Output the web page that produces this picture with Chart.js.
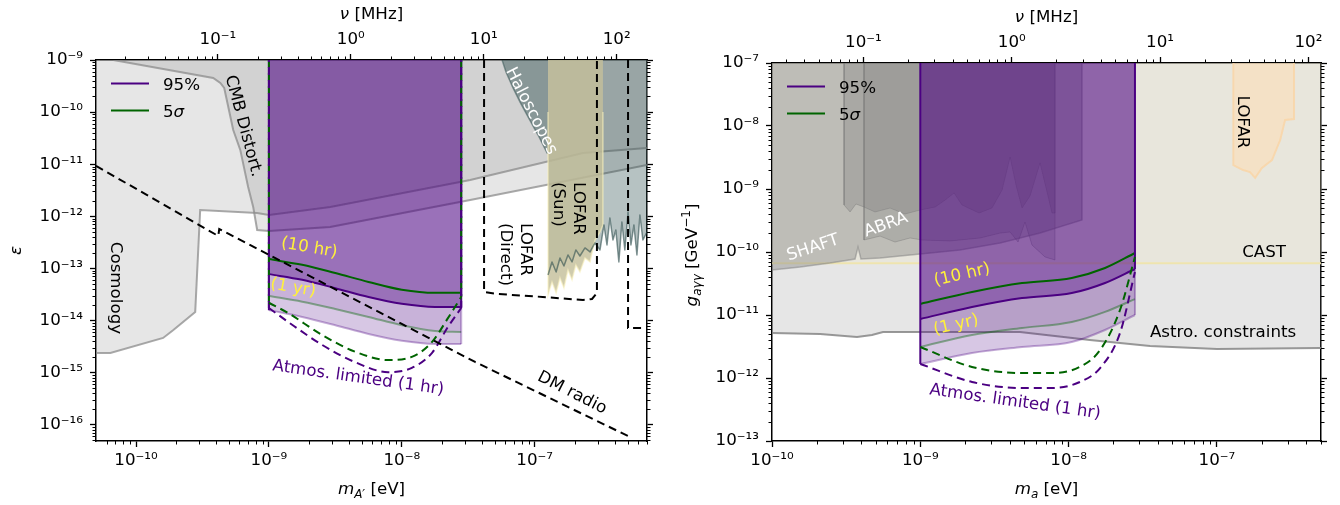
<!DOCTYPE html>
<html>
<head>
<meta charset="utf-8">
<script src="https://cdn.jsdelivr.net/npm/chart.js@4.4.1/dist/chart.umd.min.js"></script>
<style>
  html, body { margin: 0; padding: 0; background: #fff; }
  #wrap { position: relative; width: 1340px; height: 505px; overflow: hidden; }
  canvas { position: absolute; top: 0; }
  #darkPhoton { left: 0; }
  #axion { left: 670px; }
</style>
</head>
<body>
<div id="wrap">
  <canvas id="darkPhoton" width="670" height="505"></canvas>
  <canvas id="axion" width="670" height="505"></canvas>
</div>
<script>
const EV_PER_MHZ = 4.1357e-9;
const FONT = '"DejaVu Sans", sans-serif';
const FS = 16.7;
const INDIGO = '#4b0082';
const GREEN = '#006400';
const YELLOW = '#fff03c';

// shared top axis (frequency)
const freqTicks = [0.1, 1, 10, 100];
const freqTickLabels = ['10⁻¹', '10⁰', '10¹', '10²'];

// ---------- left: dark photon, m_A' [eV] vs epsilon ----------
const leftMassRange = [5e-11, 7e-7];
const leftEpsRange = [4.86e-17, 1e-9];
const leftMassTicks = [1e-10, 1e-9, 1e-8, 1e-7];
const leftMassTickLabels = ['10⁻¹⁰', '10⁻⁹', '10⁻⁸', '10⁻⁷'];
const leftEpsTicks = [1e-16, 1e-15, 1e-14, 1e-13, 1e-12, 1e-11, 1e-10, 1e-9];
const leftEpsTickLabels = ['10⁻¹⁶', '10⁻¹⁵', '10⁻¹⁴', '10⁻¹³', '10⁻¹²', '10⁻¹¹', '10⁻¹⁰', '10⁻⁹'];

const cosmologyMass = [5e-11, 6.41e-11, 1.6e-10, 1.91e-10, 2.79e-10, 3.04e-10, 8.16e-10, 1e-9, 2.89e-9, 3.27e-8, 2.31e-7, 7e-7];
const cosmologyEps = [2.38e-15, 2.38e-15, 4.62e-15, 6.57e-15, 1.46e-14, 1.32e-12, 1.16e-12, 1.06e-12, 1.51e-12, 4.98e-12, 1.64e-11, 2.05e-11];

const cmbMass = [6.75e-11, 3.81e-10, 4.31e-10, 4.61e-10, 5.39e-10, 6.09e-10, 6.98e-10, 7.62e-10, 8.16e-10, 1e-9, 2.89e-9, 3.27e-8, 7e-7];
const cmbEps = [1e-9, 4.52e-10, 3.62e-10, 2.9e-10, 4.53e-11, 1.88e-11, 3.65e-12, 1.51e-12, 5.46e-13, 5.22e-13, 6.23e-13, 2.06e-12, 9.66e-12];

const haloMass = [5.68e-8, 6.08e-8, 6.87e-8, 7.76e-8, 8.75e-8, 1.06e-7, 1.24e-7, 1.26e-7];
const haloEps = [1e-9, 5.89e-10, 2.9e-10, 1.56e-10, 8.8e-11, 3.63e-11, 1.64e-11, 1.64e-11];

const noiseMass = [1.26e-7, 1.35e-7, 1.45e-7, 1.55e-7, 1.66e-7, 1.78e-7, 1.91e-7, 2.04e-7, 2.19e-7, 2.39e-7, 2.61e-7, 2.84e-7, 3.1e-7, 3.32e-7,
  3.5e-7, 3.68e-7, 3.88e-7, 4.08e-7, 4.3e-7, 4.53e-7, 4.77e-7, 5.04e-7, 5.3e-7, 5.58e-7, 5.88e-7, 6.19e-7, 6.52e-7, 7e-7];
const noiseEps = [7.46e-14, 1.33e-13, 8.53e-14, 1.58e-13, 1.11e-13, 1.81e-13, 1.33e-13, 2.26e-13, 1.73e-13, 2.47e-13, 2.07e-13, 3.08e-13, 2.26e-13, 6.81e-13,
  2.81e-13, 9.27e-13, 3.51e-13, 5.46e-13, 1.33e-13, 7.78e-13, 2.26e-13, 1.21e-12, 2.81e-13, 6.81e-13, 1.81e-13, 1.06e-12, 3.51e-13, 5e-13];

const lofarSunMass = [1.26e-7, 1.26e-7, 1.35e-7, 1.45e-7, 1.55e-7, 1.66e-7, 1.78e-7, 1.91e-7, 2.04e-7, 2.19e-7, 2.39e-7, 2.61e-7, 2.84e-7, 3.1e-7, 3.26e-7, 3.26e-7];
const lofarSunEps = [1e-10, 3.08e-14, 5.48e-14, 3.37e-14, 6.55e-14, 4.21e-14, 9.31e-14, 5.99e-14, 1.16e-13, 8.53e-14, 1.58e-13, 1.33e-13, 3.51e-13, 5e-13, 6.81e-13, 1e-10];

const dmRadioMass = [5e-11, 4.16e-10, 4.23e-10, 3.56e-8, 5.4e-7];
const dmRadioEps = [9.3e-12, 4.19e-13, 5.7e-13, 1.6e-15, 5.56e-17];

const lofarDirectMass = [4.16e-8, 4.16e-8, 5.21e-8, 1.15e-7, 2.31e-7, 2.7e-7, 2.94e-7, 2.94e-7];
const lofarDirectEps = [1e-9, 3.52e-14, 3.23e-14, 2.83e-14, 2.47e-14, 2.59e-14, 3.37e-14, 1e-9];

const farRightMass = [5.04e-7, 5.04e-7, 7e-7];
const farRightEps = [1e-9, 7.18e-15, 7.18e-15];

const leftReachMass = [1e-9, 1.78e-9, 3.16e-9, 5.62e-9, 1e-8, 1.78e-8, 2.8e-8];
const left5sig10hr = [1.51e-13, 1.17e-13, 8.13e-14, 5.5e-14, 3.89e-14, 3.39e-14, 3.39e-14];
const left95pc10hr = [7.76e-14, 6.03e-14, 4.17e-14, 2.82e-14, 2.09e-14, 1.82e-14, 1.82e-14];
const left5sig1yr = [2.95e-14, 2.29e-14, 1.66e-14, 1.17e-14, 8.13e-15, 6.31e-15, 6.03e-15];
const left95pc1yr = [1.58e-14, 1.17e-14, 8.13e-15, 5.5e-15, 4.07e-15, 3.55e-15, 3.55e-15];
const leftAtmosMass = [1e-9, 1.4e-9, 2.52e-9, 4.46e-9, 7.89e-9, 1.19e-8, 1.69e-8, 2.23e-8, 2.8e-8];
const leftAtmos5sig = [2.19e-14, 1.38e-14, 5.25e-15, 2.51e-15, 1.74e-15, 2e-15, 3.89e-15, 1.12e-14, 2.82e-14];
const leftAtmos95pc = [1.74e-14, 9.33e-15, 3.39e-15, 1.58e-15, 1.02e-15, 1.23e-15, 2.4e-15, 7.59e-15, 1.74e-14];

// ---------- right: axion, m_a [eV] vs g_agg ----------
const rightMassRange = [1e-10, 5.03e-7];
const rightCouplingRange = [1e-13, 1e-7];
const rightMassTicks = [1e-10, 1e-9, 1e-8, 1e-7];
const rightMassTickLabels = ['10⁻¹⁰', '10⁻⁹', '10⁻⁸', '10⁻⁷'];
const rightCouplingTicks = [1e-13, 1e-12, 1e-11, 1e-10, 1e-9, 1e-8, 1e-7];
const rightCouplingTickLabels = ['10⁻¹³', '10⁻¹²', '10⁻¹¹', '10⁻¹⁰', '10⁻⁹', '10⁻⁸', '10⁻⁷'];

const astroMass = [1e-10, 2.11e-10, 3.74e-10, 4.72e-10, 5.6e-10, 4.7e-9, 1.39e-8, 3.54e-8, 1e-7, 5.03e-7];
const astroCoupling = [5.18e-12, 4.99e-12, 4.48e-12, 4.82e-12, 5.37e-12, 5.37e-12, 4.01e-12, 3.22e-12, 2.89e-12, 2.99e-12];

const castMass = [1e-10, 5.03e-7];
const castCoupling = [6.6e-11, 6.6e-11];

const shaftMass = [1e-10, 1.55e-10, 2.46e-10, 3.63e-10, 3.8e-10, 3.98e-10, 5.35e-10, 7.29e-10, 1e-9, 1.85e-9, 3.45e-9, 6.41e-9, 1.23e-8, 1.23e-8];
const shaftCoupling = [5.18e-11, 5.78e-11, 6.68e-11, 7.74e-11, 1.2e-10, 7.74e-11, 8.03e-11, 8.65e-11, 9.3e-11, 1.08e-10, 1.39e-10, 2e-10, 3.22e-10, 1e-7];

const abraUpperMass = [3.06e-10, 3.06e-10, 3.36e-10, 3.68e-10, 4.17e-10, 4.95e-10, 6.25e-10, 7.88e-10, 1e-9, 1.26e-9, 1.47e-9, 1.69e-9, 1.91e-9,
  2.49e-9, 3.04e-9, 3.56e-9, 4.03e-9, 4.42e-9, 4.85e-9, 5.49e-9, 6.41e-9, 7.05e-9, 7.73e-9, 8.09e-9, 8.09e-9];
const abraUpperCoupling = [1e-7, 5.57e-10, 4.32e-10, 5.78e-10, 5.18e-10, 4.32e-10, 4.99e-10, 4.01e-10, 4.65e-10, 5.18e-10, 6.68e-10, 8.65e-10, 5.57e-10,
  4.16e-10, 4.99e-10, 9.64e-10, 3.22e-9, 1.16e-9, 4.99e-10, 7.74e-10, 2.59e-9, 1.04e-9, 4.16e-10, 4.16e-10, 1e-7];

const abraLowerMass = [4.17e-10, 4.17e-10, 5.35e-10, 6.75e-10, 8.53e-10, 1.03e-9, 1.59e-9, 2.53e-9, 3.45e-9, 4.03e-9, 4.56e-9, 5.08e-9, 5.66e-9, 6.93e-9, 8.09e-9, 8.09e-9];
const abraLowerCoupling = [1e-7, 1.55e-10, 1.79e-10, 1.44e-10, 1.67e-10, 1.55e-10, 1.5e-10, 1.67e-10, 2e-10, 2.08e-10, 1.44e-10, 2.99e-10, 1.29e-10, 8.34e-11, 7.46e-11, 1e-7];

const lofarMass = [1.29e-7, 1.29e-7, 1.5e-7, 1.67e-7, 1.81e-7, 2.01e-7, 2.35e-7, 2.67e-7, 2.88e-7, 3.31e-7, 3.31e-7];
const lofarCoupling = [1e-7, 2.4e-9, 2e-9, 1.86e-9, 1.5e-9, 2.15e-9, 2.88e-9, 6e-9, 1.25e-8, 1.29e-8, 1e-7];

const rightReachMass = [1e-9, 2.23e-9, 4.85e-9, 1.05e-8, 1.76e-8, 2.8e-8];
const right5sig10hr = [1.5e-11, 2.32e-11, 3.22e-11, 3.86e-11, 5.57e-11, 9.64e-11];
const right95pc10hr = [8.65e-12, 1.34e-11, 1.86e-11, 2.23e-11, 3.22e-11, 5.37e-11];
const right5sig1yr = [3.1e-12, 4.82e-12, 6.22e-12, 7.74e-12, 1.12e-11, 1.79e-11];
const right95pc1yr = [1.67e-12, 2.49e-12, 3.1e-12, 3.72e-12, 5.78e-12, 1e-11];
const rightAtmosMass = [1e-9, 2.23e-9, 4.85e-9, 7.73e-9, 1.19e-8, 1.63e-8, 2.22e-8, 2.8e-8];
const rightAtmos5sig = [3.1e-12, 1.5e-12, 1.2e-12, 1.2e-12, 1.5e-12, 2.78e-12, 1.2e-11, 8.34e-11];
const rightAtmos95pc = [1.67e-12, 8.65e-13, 6.93e-13, 6.93e-13, 8.65e-13, 1.44e-12, 5.18e-12, 4.82e-11];

// ---------- dataset helpers ----------
function line(xs, ys, color, width, extra = {}) {
    return Object.assign({
        data: xs.map((x, i) => ({ x, y: ys[i] })),
        borderColor: color,
        borderWidth: width,
        backgroundColor: 'transparent',
        fill: false,
        pointRadius: 0,
        pointHitRadius: 0,
        tension: 0,
        xAxisID: 'x',
        yAxisID: 'y'
    }, extra);
}

function region(xs, ys, bg, edge, edgeWidth, extra = {}) {
    return line(xs, ys, edge || 'transparent', edge ? edgeWidth : 0, Object.assign({ backgroundColor: bg, fill: 'end' }, extra));
}

const smooth = { cubicInterpolationMode: 'monotone' };
const dashed = { borderDash: [8, 5] };

// purple reach block shared by both panels
function reachDatasets(p) {
    const top = p.top;
    const last = p.mass.length - 1;
    const out = [
        region(p.mass, p.c95_1yr, 'rgba(75,0,130,0.22)', null, 0, smooth),
        region(p.mass, p.c5_1yr, 'rgba(75,0,130,0.11)', null, 0, smooth),
        region(p.mass, p.c95_10hr, 'rgba(75,0,130,0.37)', null, 0, smooth),
        line(p.mass, p.c5_1yr, 'rgba(0,100,0,0.4)', 2, smooth),
        line(p.mass, p.c95_1yr, 'rgba(75,0,130,0.33)', 2, smooth),
        line([p.mass[last], p.mass[last]], [p.c95_10hr[last], p.c95_1yr[last]], 'rgba(75,0,130,0.33)', 2),
        line(p.mass, p.c5_10hr, GREEN, 2, smooth),
        line(p.mass, p.c95_10hr, INDIGO, 2, smooth),
        line([p.mass[0], p.mass[0]], [top, p.c95_1yr[0]], INDIGO, 2),
        line([p.mass[last], p.mass[last]], [top, p.c95_10hr[last]], INDIGO, 2)
    ];
    const al = p.atmosMass.length - 1;
    if (p.atmosEdges) {
        out.push(line([p.atmosMass[0], p.atmosMass[0]], [top, p.a5[0]], GREEN, 2, dashed));
        out.push(line([p.atmosMass[al], p.atmosMass[al]], [top, p.a5[al]], GREEN, 2, dashed));
        out.push(line([p.atmosMass[0], p.atmosMass[0]], [top, p.a95[0]], INDIGO, 2, { borderDash: [8, 5], borderDashOffset: 6 }));
        out.push(line([p.atmosMass[al], p.atmosMass[al]], [top, p.a95[al]], INDIGO, 2, { borderDash: [8, 5], borderDashOffset: 6 }));
    }
    out.push(line(p.atmosMass, p.a5, GREEN, 2, Object.assign({}, smooth, dashed)));
    out.push(line(p.atmosMass, p.a95, INDIGO, 2, Object.assign({}, smooth, dashed)));
    return out;
}

const leftDatasets = [
    region(cosmologyMass, cosmologyEps, 'rgba(128,128,128,0.2)', 'rgba(140,140,140,0.75)', 2),
    region(cmbMass, cmbEps, 'rgba(128,128,128,0.2)', 'rgba(140,140,140,0.75)', 2),
    region(haloMass, haloEps, 'rgba(47,79,79,0.45)', 'rgba(47,79,79,0.5)', 1.5),
    region(noiseMass, noiseEps, 'rgba(47,79,79,0.35)', null, 0),
    region(lofarSunMass, lofarSunEps, 'rgba(196,191,155,0.82)', 'rgba(250,242,190,0.6)', 1.5),
    line(noiseMass, noiseEps, 'rgba(47,79,79,0.6)', 1.5, { borderJoinStyle: 'round' }),
    ...reachDatasets({
        top: leftEpsRange[1], mass: leftReachMass,
        c5_10hr: left5sig10hr, c95_10hr: left95pc10hr, c5_1yr: left5sig1yr, c95_1yr: left95pc1yr,
        atmosMass: leftAtmosMass, a5: leftAtmos5sig, a95: leftAtmos95pc, atmosEdges: true
    }),
    line(dmRadioMass, dmRadioEps, '#000', 2, dashed),
    line(lofarDirectMass, lofarDirectEps, '#000', 2, dashed),
    line(farRightMass, farRightEps, '#000', 2, dashed)
];

const rightDatasets = [
    region(astroMass, astroCoupling, 'rgba(128,128,128,0.2)', 'rgba(128,128,128,0.8)', 2),
    region(castMass, castCoupling, 'rgba(240,230,180,0.2)', 'rgba(240,228,170,0.9)', 2),
    region(shaftMass, shaftCoupling, 'rgba(128,128,128,0.4)', 'rgba(128,128,128,0.5)', 1.5),
    region(abraUpperMass, abraUpperCoupling, 'rgba(128,128,128,0.35)', 'rgba(110,110,110,0.35)', 1, { borderJoinStyle: 'round' }),
    region(abraLowerMass, abraLowerCoupling, 'rgba(128,128,128,0.28)', 'rgba(110,110,110,0.35)', 1, { borderJoinStyle: 'round' }),
    region(lofarMass, lofarCoupling, 'rgba(255,222,180,0.55)', 'rgba(250,212,165,0.8)', 2),
    ...reachDatasets({
        top: rightCouplingRange[1], mass: rightReachMass,
        c5_10hr: right5sig10hr, c95_10hr: right95pc10hr, c5_1yr: right5sig1yr, c95_1yr: right95pc1yr,
        atmosMass: rightAtmosMass, a5: rightAtmos5sig, a95: rightAtmos95pc, atmosEdges: false
    })
];

// ---------- text overlays ----------
const leftNotes = [
    { text: ['(10 hr)'], at: [2.01e-9, 2.47e-13], rot: 10, color: YELLOW },
    { text: ['(1 yr)'], at: [1.52e-9, 4.21e-14], rot: 10, color: YELLOW },
    { text: ['Atmos. limited (1 hr)'], at: [4.7e-9, 7.87e-16], rot: 8, color: INDIGO },
    { text: ['DM radio'], at: [1.91e-7, 4.06e-16], rot: 27 },
    { text: ['Cosmology'], at: [7e-11, 4.21e-14], rot: 90 },
    { text: ['CMB Distort.'], at: [6.41e-10, 5.41e-11], rot: 75 },
    { text: ['Haloscopes'], at: [9.4e-8, 1.05e-10], rot: 63, color: '#fff' },
    { text: ['LOFAR', '(Sun)'], at: [1.78e-7, 4.55e-12], rot: 90, align: 'left' },
    { text: ['LOFAR', '(Direct)'], at: [7.11e-8, 7.43e-13], rot: 90, align: 'left' }
];

const rightNotes = [
    { text: ['SHAFT'], at: [1.89e-10, 1.16e-10], rot: -18, color: '#fff' },
    { text: ['ABRA'], at: [5.87e-10, 2.68e-10], rot: -20, color: '#fff' },
    { text: ['LOFAR'], at: [1.48e-7, 1.16e-8], rot: 90 },
    { text: ['CAST'], at: [2.08e-7, 9.64e-11], rot: 0 },
    { text: ['Astro. constraints'], at: [1.1e-7, 5.18e-12], rot: 0 },
    { text: ['(10 hr)'], at: [1.91e-9, 4.32e-11], rot: -13, color: YELLOW },
    { text: ['(1 yr)'], at: [1.74e-9, 6.93e-12], rot: -13, color: YELLOW },
    { text: ['Atmos. limited (1 hr)'], at: [4.36e-9, 4.16e-13], rot: 8, color: INDIGO }
];

function fontOf(p) {
    return `${p.it ? 'italic ' : ''}${p.s || FS}px ${FONT}`;
}

function richText(ctx, parts, x, y, rot, align) {
    ctx.save();
    ctx.translate(x, y);
    ctx.rotate(rot * Math.PI / 180);
    ctx.textBaseline = 'alphabetic';
    ctx.textAlign = 'left';
    let width = 0;
    parts.forEach((p) => { ctx.font = fontOf(p); width += ctx.measureText(p.t).width; });
    let cx = align === 'left' ? 0 : -width / 2;
    parts.forEach((p) => {
        ctx.font = fontOf(p);
        ctx.fillStyle = p.c || '#000';
        ctx.fillText(p.t, cx, FS * 0.36 + (p.dy || 0));
        cx += ctx.measureText(p.t).width;
    });
    ctx.restore();
}

function drawNote(ctx, note, px, py) {
    ctx.save();
    ctx.translate(px, py);
    ctx.rotate(note.rot * Math.PI / 180);
    ctx.font = `${FS}px ${FONT}`;
    ctx.fillStyle = note.color || '#000';
    ctx.textAlign = note.align || 'center';
    ctx.textBaseline = 'middle';
    const lh = 20;
    note.text.forEach((t, i) => ctx.fillText(t, 0, (i - (note.text.length - 1) / 2) * lh));
    ctx.restore();
}

function minorValues(min, max) {
    const out = [];
    for (let e = Math.floor(Math.log10(min)); e <= Math.ceil(Math.log10(max)); e++) {
        for (let k = 2; k <= 9; k++) {
            const v = k * Math.pow(10, e);
            if (v >= min && v <= max) out.push(v);
        }
    }
    return out;
}

function drawMinorTicks(chart) {
    const ctx = chart.ctx;
    const area = chart.chartArea;
    ctx.save();
    ctx.strokeStyle = '#000';
    ctx.lineWidth = 1;
    ctx.beginPath();
    Object.values(chart.scales).forEach((scale) => {
        minorValues(scale.min, scale.max).forEach((v) => {
            const p = Math.round(scale.getPixelForValue(v)) + 0.5;
            if (scale.position === 'bottom') { ctx.moveTo(p, area.bottom); ctx.lineTo(p, area.bottom + 3.5); }
            if (scale.position === 'top') { ctx.moveTo(p, area.top); ctx.lineTo(p, area.top - 3.5); }
            if (scale.position === 'left') { ctx.moveTo(area.left, p); ctx.lineTo(area.left - 3.5, p); }
            if (scale.position === 'right') { ctx.moveTo(area.right, p); ctx.lineTo(area.right + 3.5, p); }
        });
    });
    ctx.stroke();
    ctx.restore();
}

function drawLegend(chart) {
    const ctx = chart.ctx;
    const area = chart.chartArea;
    const rows = [
        { color: INDIGO, parts: [{ t: '95%' }] },
        { color: GREEN, parts: [{ t: '5' }, { t: 'σ', it: true }] }
    ];
    rows.forEach((row, i) => {
        const y = area.top + 23.5 + i * 27;
        ctx.save();
        ctx.strokeStyle = row.color;
        ctx.lineWidth = 2.2;
        ctx.beginPath();
        ctx.moveTo(area.left + 15, y);
        ctx.lineTo(area.left + 53, y);
        ctx.stroke();
        ctx.restore();
        richText(ctx, row.parts, area.left + 67, y, 0, 'left');
    });
}

function overlay(id, notes, titles) {
    return {
        id,
        afterDraw(chart) {
            const ctx = chart.ctx;
            const area = chart.chartArea;
            drawMinorTicks(chart);
            notes.forEach((n) => {
                drawNote(ctx, n, chart.scales.x.getPixelForValue(n.at[0]), chart.scales.y.getPixelForValue(n.at[1]));
            });
            drawLegend(chart);
            const cx = (area.left + area.right) / 2;
            const cy = (area.top + area.bottom) / 2;
            richText(ctx, [{ t: 'ν', it: true }, { t: ' [MHz]' }], cx, area.top - 47, 0, 'center');
            richText(ctx, titles.bottom, cx, area.bottom + 47, 0, 'center');
            richText(ctx, titles.left, area.left - 81, cy + titles.leftShift, -90, 'center');
        }
    };
}

function logAxis(position, range, ticks, labels, size, showLabels) {
    const horizontal = position === 'top' || position === 'bottom';
    return {
        type: 'logarithmic',
        position,
        axis: horizontal ? 'x' : 'y',
        min: range[0],
        max: range[1],
        bounds: 'data',
        z: 1,
        border: { display: true, color: '#000', width: 1.5 },
        grid: { display: true, drawOnChartArea: false, drawTicks: true, tickLength: 6, tickWidth: 1.3, tickColor: '#000' },
        ticks: {
            display: showLabels,
            autoSkip: false,
            maxRotation: 0,
            padding: horizontal ? 4 : 7,
            color: '#000',
            font: { family: FONT, size: FS },
            callback: (value, index) => labels[index]
        },
        afterBuildTicks: (scale) => { scale.ticks = ticks.map((v) => ({ value: v })); },
        afterFit: (scale) => {
            if (horizontal) scale.height = size; else scale.width = size;
        }
    };
}

function makeChart(canvasId, cfg) {
    const n = cfg.datasets.length;
    return new Chart(document.getElementById(canvasId), {
        type: 'line',
        data: { datasets: cfg.datasets.map((d, i) => Object.assign({}, d, { order: n - i })) },
        options: {
            responsive: false,
            devicePixelRatio: 1,
            animation: false,
            events: [],
            layout: { padding: 0 },
            plugins: { legend: { display: false }, tooltip: { enabled: false } },
            scales: {
                x: logAxis('bottom', cfg.massRange, cfg.massTicks, cfg.massTickLabels, cfg.box.bottom, true),
                xTop: logAxis('top', [cfg.massRange[0] / EV_PER_MHZ, cfg.massRange[1] / EV_PER_MHZ], freqTicks, freqTickLabels, cfg.box.top, true),
                y: logAxis('left', cfg.yRange, cfg.yTicks, cfg.yTickLabels, cfg.box.left, true),
                yRight: logAxis('right', cfg.yRange, cfg.yTicks, cfg.yTickLabels, cfg.box.right, false)
            }
        },
        plugins: [overlay(canvasId + 'Overlay', cfg.notes, cfg.titles)]
    });
}

makeChart('darkPhoton', {
    datasets: leftDatasets,
    massRange: leftMassRange, massTicks: leftMassTicks, massTickLabels: leftMassTickLabels,
    yRange: leftEpsRange, yTicks: leftEpsTicks, yTickLabels: leftEpsTickLabels,
    box: { left: 96, right: 23, top: 60, bottom: 64 },
    notes: leftNotes,
    titles: {
        bottom: [{ t: 'm', it: true }, { t: 'A′', it: true, s: 12, dy: 4 }, { t: ' [eV]' }],
        left: [{ t: 'ε', it: true }],
        leftShift: 0
    }
});

makeChart('axion', {
    datasets: rightDatasets,
    massRange: rightMassRange, massTicks: rightMassTicks, massTickLabels: rightMassTickLabels,
    yRange: rightCouplingRange, yTicks: rightCouplingTicks, yTickLabels: rightCouplingTickLabels,
    box: { left: 102, right: 19, top: 63, bottom: 64 },
    notes: rightNotes,
    titles: {
        bottom: [{ t: 'm', it: true }, { t: 'a', it: true, s: 12, dy: 4 }, { t: ' [eV]' }],
        left: [{ t: 'g', it: true }, { t: 'aγγ', it: true, s: 12, dy: 4 }, { t: ' [GeV' }, { t: '−1', s: 12, dy: -7 }, { t: ']' }],
        leftShift: 3
    }
});
</script>
</body>
</html>
